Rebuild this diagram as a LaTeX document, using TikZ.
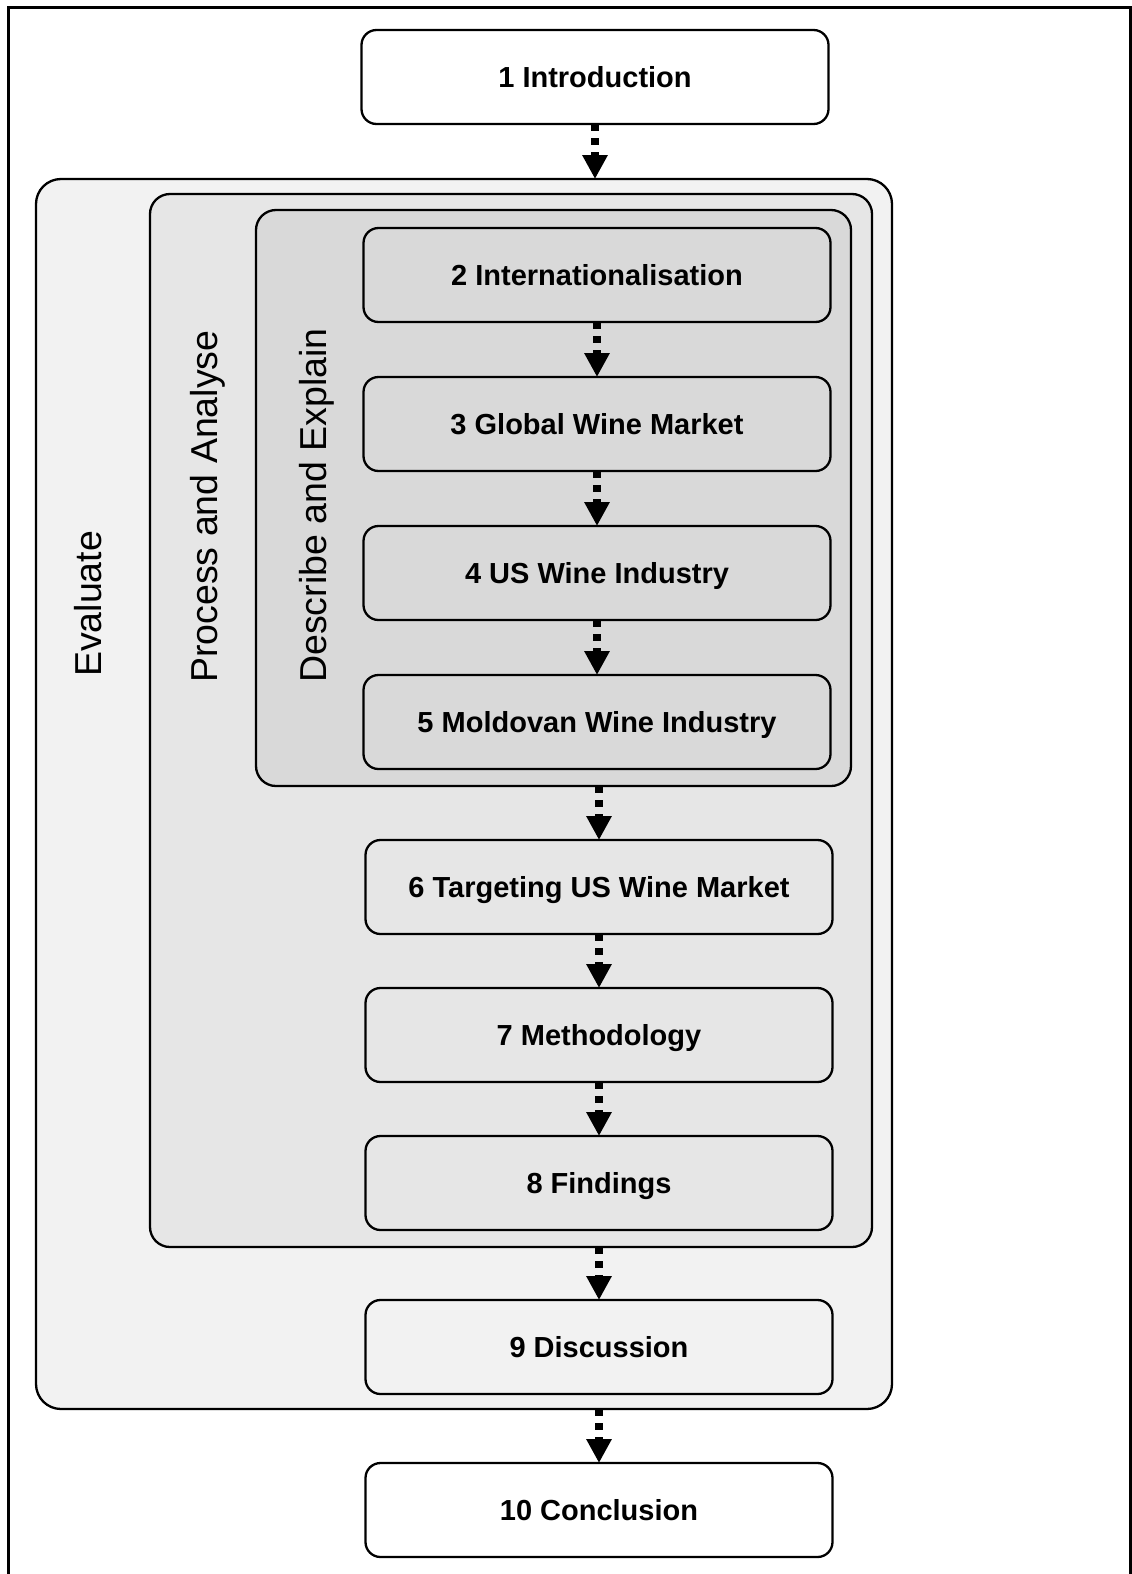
\documentclass[tikz,border=0pt]{standalone}
\usepackage{fontspec}
\setmainfont{Liberation Sans}
\usetikzlibrary{arrows.meta}
\definecolor{evalgray}{HTML}{F2F2F2}
\definecolor{procgray}{HTML}{E6E6E6}
\definecolor{descgray}{HTML}{D9D9D9}
\begin{document}
\begin{tikzpicture}[x=1pt, y=-1pt,
		chapter/.style={draw, line width=2.3pt, rounded corners=15pt, minimum width=467pt, minimum height=94pt, inner sep=0pt, outer sep=0pt, text height=21pt, text depth=0pt, font=\fontsize{29}{34}\selectfont\bfseries},
		stage/.style={draw, line width=2.3pt, rounded corners=20pt, anchor=north west, inner sep=0pt, outer sep=0pt},
		stagelabel/.style={rotate=90, anchor=base west, inner sep=0pt, font=\fontsize{37.5}{44}\selectfont},
		flow/.style={line width=8pt, dash pattern=on 7pt off 7pt, -{Triangle[width=24pt,length=24pt]}}]
		\useasboundingbox (0,0) rectangle (1132,1574);
		%frame
		\draw[line width=3pt] (8,1600) -- (8,7) -- (1130,7) -- (1130,1600);
		%stages
		\node[stage, fill=evalgray, rounded corners=25pt, minimum width=856pt, minimum height=1230pt] (evaluate) at (36,179) {};
		\node[stage, fill=procgray, minimum width=722pt, minimum height=1053pt] (process) at (150,194) {};
		\node[stage, fill=descgray, minimum width=595pt, minimum height=576pt] (describe) at (256,210) {};
		\node[stagelabel] (evallabel) at (101,677) {Evaluate};
		\node[stagelabel] (proclabel) at (217,683) {Process and Analyse};
		\node[stagelabel] (desclabel) at (326,683) {Describe and Explain};
		%chapters
		\node[chapter, fill=white] (intro) at (595,77) {1 Introduction};
		\node[chapter, fill=descgray] (internat) at (597,275) {2 Internationalisation};
		\node[chapter, fill=descgray] (globalm) at (597,424) {3 Global Wine Market};
		\node[chapter, fill=descgray] (uswine) at (597,573) {4 US Wine Industry};
		\node[chapter, fill=descgray] (moldova) at (597,722) {5 Moldovan Wine Industry};
		\node[chapter, fill=procgray] (targeting) at (599,887) {6 Targeting US Wine Market};
		\node[chapter, fill=procgray] (method) at (599,1035) {7 Methodology};
		\node[chapter, fill=procgray] (findings) at (599,1183) {8 Findings};
		\node[chapter, fill=evalgray] (discuss) at (599,1347) {9 Discussion};
		\node[chapter, fill=white] (concl) at (599,1510) {10 Conclusion};
		%arrows
		\draw[flow] (intro.south) -- (intro.south |- evaluate.north);
		\foreach \a/\b in {internat/globalm, globalm/uswine, uswine/moldova, targeting/method, method/findings}
			\draw[flow] (\a.south) -- (\b.north);
		\draw[flow] (describe.south -| targeting.north) -- (targeting.north);
		\draw[flow] (process.south -| discuss.north) -- (discuss.north);
		\draw[flow] (evaluate.south -| concl.north) -- (concl.north);
\end{tikzpicture}
\end{document}
